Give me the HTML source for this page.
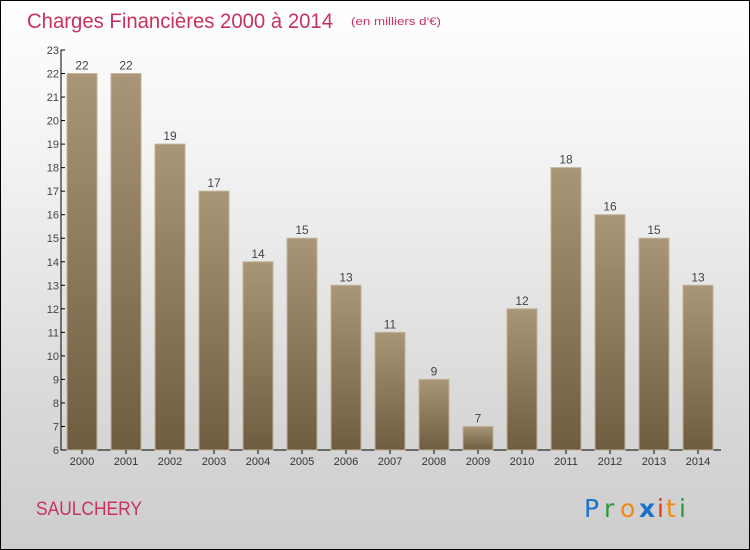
<!DOCTYPE html>
<html><head><meta charset="utf-8"><style>
body{margin:0}
#wrap{position:relative;width:748px;height:548px;border:1px solid #000;background:linear-gradient(#fff 0%,#f2f2f2 30%,#d8d8d8 75%,#cdcdcd 100%);font-family:"Liberation Sans",sans-serif;overflow:hidden}
</style></head><body>
<div id="wrap">
<svg width="748" height="548" style="position:absolute;left:0;top:0" id="svg">
<defs><linearGradient id="bg" x1="0" y1="0" x2="0" y2="1"><stop offset="0" stop-color="#a89676"/><stop offset="1" stop-color="#6e5d3f"/></linearGradient></defs>
<text x="26" y="27" font-size="21" fill="#c8325e" textLength="306" lengthAdjust="spacingAndGlyphs">Charges Financières 2000 à 2014</text>
<text x="350" y="24" font-size="11" fill="#c8325e" textLength="90" lengthAdjust="spacingAndGlyphs">(en milliers d'€)</text>
<text x="35" y="514" font-size="19" fill="#c8325e" textLength="106" lengthAdjust="spacingAndGlyphs">SAULCHERY</text>
<g font-size="25" font-family="'DejaVu Sans',sans-serif">
<text x="583" y="516" fill="#1a73c8">P</text><text x="603" y="516" fill="#2a9a3a">r</text><text x="619" y="516" fill="#f08a10">o</text><text x="638" y="516" fill="#1a73c8" font-weight="bold">x</text><text x="656" y="516" fill="#e03a1a">i</text><text x="665" y="516" fill="#f08a10">t</text><text x="678" y="516" fill="#2a9a3a">i</text>
</g>
<g id="plot"></g>
</svg>
</div>
<script>
const categories=["2000","2001","2002","2003","2004","2005","2006","2007","2008","2009","2010","2011","2012","2013","2014"];
const values=[22,22,19,17,14,15,13,11,9,7,12,18,16,15,13];
const yTicks=[6,7,8,9,10,11,12,13,14,15,16,17,18,19,20,21,22,23];
const NS="http://www.w3.org/2000/svg";
const g=document.getElementById('plot');
const y0=449,y1=49,ymin=6,ymax=23,xL=60;
const ys=v=>y0-(v-ymin)*(y0-y1)/(ymax-ymin);
const xs=i=>66+i*44;
function mk(t,a){const e=document.createElementNS(NS,t);for(const k in a)e.setAttribute(k,a[k]);g.appendChild(e);return e;}
let ax=mk('line',{x1:xL,y1:y1,x2:xL,y2:y0,stroke:'#000'});


let bx=mk('line',{x1:xL,y1:y0,x2:720,y2:y0,stroke:'#000'});


yTicks.forEach(v=>{
 const y=ys(v);
 mk('line',{x1:xL,y1:y,x2:xL+4,y2:y,stroke:'#000'});
 const t=mk('text',{x:xL-2,y:y+4,'font-size':11,fill:'#444','text-anchor':'end'});
 t.textContent=v;
 
 
});
values.forEach((v,i)=>{
 const x=xs(i),y=ys(v);
 const r=mk('rect',{x:x,y:y,width:30,height:y0-y,fill:'url(#bg)',stroke:'#c2b396','stroke-width':1});
 
 
 const l=mk('text',{x:x+15,y:y-4,'font-size':12,fill:'#444','text-anchor':'middle'});
 l.textContent=v;
 
 
 mk('line',{x1:x+15,y1:y0,x2:x+15,y2:y0+4,stroke:'#000'});
 const c=mk('text',{x:x+15,y:y0+15,'font-size':11,fill:'#333','text-anchor':'middle'});
 c.textContent=categories[i];
 
 
});
</script>
</body></html>
